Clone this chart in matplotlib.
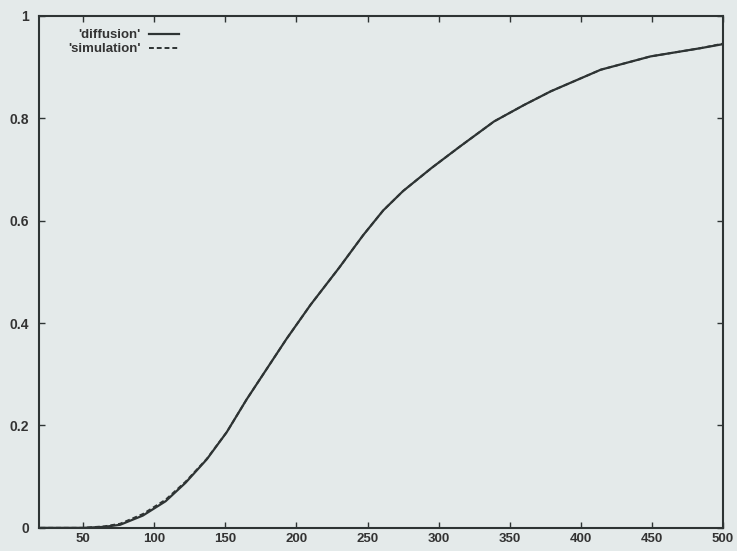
import matplotlib
matplotlib.use('Agg')
import matplotlib.pyplot as plt

# values
x_diffusion = [20, 50, 65, 76, 92, 108, 122, 137, 151, 165, 179, 193, 210, 230,
               247, 261, 275, 295, 315, 339, 360, 379, 414, 449, 484, 500]
y_diffusion = [0.0, 0.0, 0.002, 0.006, 0.024, 0.052, 0.088, 0.134, 0.187, 0.251,
               0.310, 0.369, 0.436, 0.508, 0.572, 0.620, 0.658, 0.703, 0.745,
               0.794, 0.826, 0.853, 0.895, 0.921, 0.937, 0.945]

x_simulation = [20, 50, 65, 76, 92, 108, 122, 137, 151, 165, 179, 193, 210, 230,
                247, 261, 275, 295, 315, 339, 360, 379, 414, 449, 484, 500]
y_simulation = [0.0, 0.0, 0.003, 0.008, 0.027, 0.055, 0.090, 0.135, 0.187, 0.251,
                0.310, 0.369, 0.436, 0.508, 0.572, 0.620, 0.658, 0.703, 0.745,
                0.794, 0.826, 0.853, 0.895, 0.921, 0.937, 0.946]

x_ticks = [50, 100, 150, 200, 250, 300, 350, 400, 450, 500]
y_ticks = [0, 0.2, 0.4, 0.6, 0.8, 1]
y_tick_labels = ['0', '0.2', '0.4', '0.6', '0.8', '1']

bg = '#e4eaea'
ink = '#2e3434'

plt.rcParams['font.family'] = ['Liberation Sans', 'DejaVu Sans']

fig = plt.figure(figsize=(7.37, 5.51), dpi=100, facecolor=bg)
ax = fig.add_axes([0.053, 0.042, 0.928, 0.929], facecolor=bg)

ax.plot(x_diffusion, y_diffusion, color=ink, linewidth=1.6, label="'diffusion'")
ax.plot(x_simulation, y_simulation, color=ink, linewidth=1.4,
        linestyle=(0, (2.5, 1.5)), label="'simulation'")

ax.set_xlim(19, 500)
ax.set_ylim(0, 1)
ax.set_xticks(x_ticks)
ax.set_yticks(y_ticks)
ax.set_yticklabels(y_tick_labels)

ax.tick_params(direction='in', length=4, width=1, color=ink,
               top=True, right=True, labelsize=10, labelcolor='#333333')
ax.tick_params(axis='x', pad=4, labelsize=9.5)
ax.tick_params(axis='y', pad=7)
for lbl in ax.get_xticklabels() + ax.get_yticklabels():
    lbl.set_fontweight('bold')

for side in ax.spines.values():
    side.set_color(ink)
    side.set_linewidth(1.5)

leg = ax.legend(loc='upper left', bbox_to_anchor=(0.035, 0.985), frameon=False,
                markerfirst=False, handlelength=2.3, handletextpad=0.6,
                labelspacing=0.15, fontsize=9.5, borderaxespad=0)
for t in leg.get_texts():
    t.set_fontweight('bold')
    t.set_color('#333333')

fig.savefig('out.png', dpi=100, facecolor=bg)
